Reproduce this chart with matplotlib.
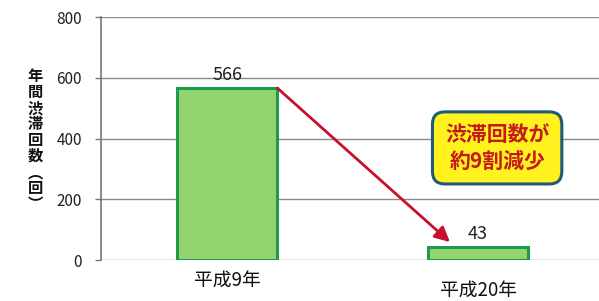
import numpy as np
import matplotlib
matplotlib.use("Agg")
import matplotlib.pyplot as plt
from matplotlib.transforms import ScaledTranslation

plt.rcParams['font.family'] = ['Noto Sans CJK JP', 'DejaVu Sans']

# data
years = ["平成9年", "平成20年"]
counts = [566, 43]
yticks = [0, 200, 400, 600, 800]
ylabel = "年\n間\n渋\n滞\n回\n数\n︵\n回\n︶"
note = "渋滞回数が\n約9割減少"

fig = plt.figure(figsize=(5.99, 3.01), dpi=100)
ax = fig.add_axes([0.169, 0.1362, 0.831, 0.8073])

x = np.arange(len(years))
ax.bar(x, counts, width=0.4, color="#93d46f", edgecolor="#1f9a4c", linewidth=2.2, zorder=3)

# value labels
for xi, v in zip(x, counts):
    ax.text(xi, v + 14, str(v), ha="center", va="bottom", fontsize=13, color="#222222", zorder=4)

ax.set_xlim(-0.502, 1.482)
ax.set_ylim(0, 800)
ax.set_yticks(yticks)
ax.set_yticklabels([str(t) for t in yticks], fontsize=11, color="#222222")
ax.set_xticks(x)
ax.set_xticklabels(years, fontsize=13.5, color="#111111")
ax.tick_params(axis="x", length=0, pad=7)
ax.tick_params(axis="y", length=4, width=1, color="#777777", pad=10)

# second label sits a bit lower in the original
lab = ax.get_xticklabels()[1]
lab.set_transform(lab.get_transform() + ScaledTranslation(0, -10 / 100, fig.dpi_scale_trans))

ax.grid(axis="y", color="#8a8a8a", linewidth=1, zorder=0)
for s in ["top", "right", "bottom"]:
    ax.spines[s].set_visible(False)
ax.spines["left"].set_color("#777777")
ax.spines["left"].set_linewidth(1.2)

fig.text(0.059, 0.535, ylabel, ha="center", va="center", fontsize=11,
         fontweight="bold", linespacing=1.0, color="#111111")

# red arrow from first bar to second
ax.annotate("", xy=(0.888, 59), xytext=(0.2, 566),
            arrowprops=dict(arrowstyle="-|>,head_length=0.9,head_width=0.45",
                            color="#c8102e", lw=2, shrinkA=0, shrinkB=0), zorder=5)

# callout box
ax.text(1.076, 369, note, ha="center", va="center", fontsize=15, fontweight="bold",
        color="#c41a1a", linespacing=1.3, zorder=6,
        bbox=dict(boxstyle="round,pad=0.6,rounding_size=0.6", facecolor="#fff21f",
                  edgecolor="#1f5a78", linewidth=2.2))

fig.savefig("out.png", dpi=100)
